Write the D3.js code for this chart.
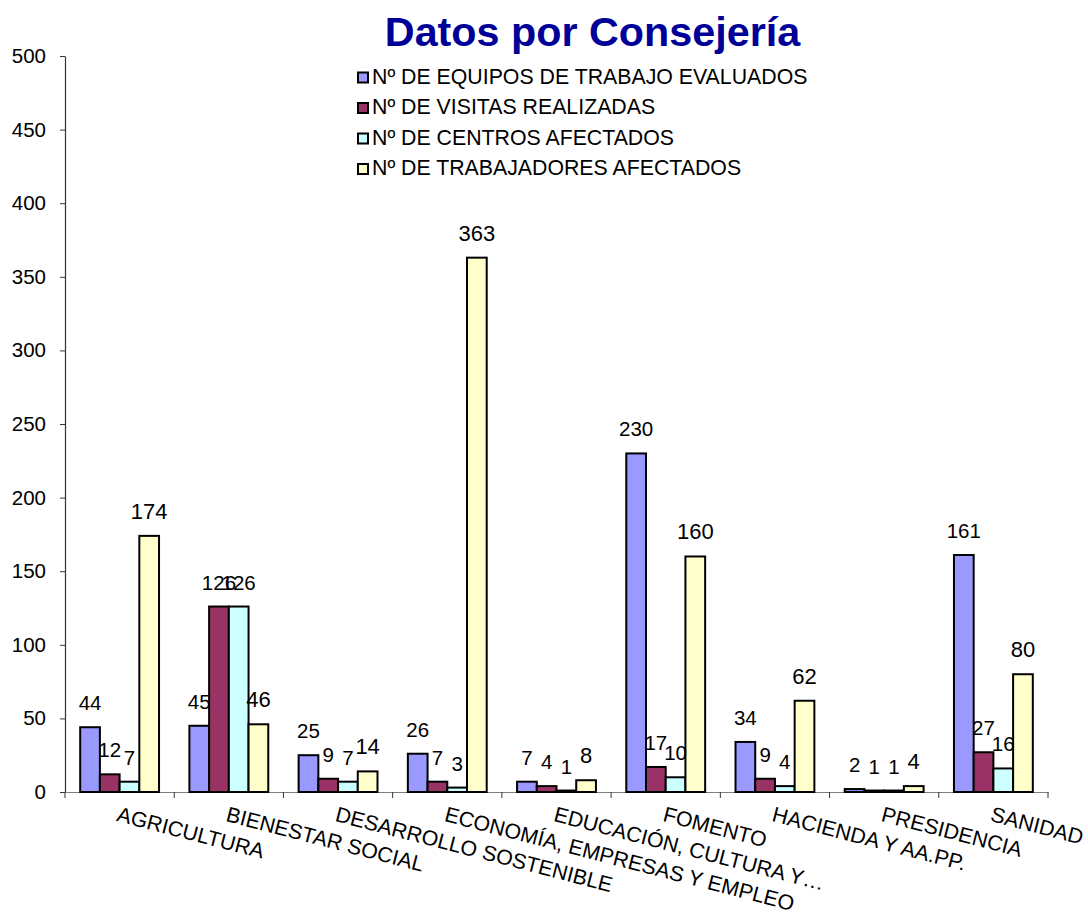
<!DOCTYPE html>
<html>
<head>
<meta charset="utf-8">
<script src="https://cdn.jsdelivr.net/npm/d3@7"></script>
<style>
  html, body { margin: 0; padding: 0; background: #fff; }
  svg { display: block; font-family: "Liberation Sans", Arial, sans-serif; }
</style>
</head>
<body>
<svg id="chart" width="1088" height="913"></svg>
<script>
const categories = ["AGRICULTURA", "BIENESTAR SOCIAL", "DESARROLLO SOSTENIBLE", "ECONOMÍA, EMPRESAS Y EMPLEO", "EDUCACIÓN, CULTURA Y…", "FOMENTO", "HACIENDA Y AA.PP.", "PRESIDENCIA", "SANIDAD"];
const seriesNames = ["Nº DE EQUIPOS DE TRABAJO EVALUADOS", "Nº DE VISITAS REALIZADAS", "Nº DE CENTROS AFECTADOS", "Nº DE TRABAJADORES AFECTADOS"];
const equipos = [44, 45, 25, 26, 7, 230, 34, 2, 161];
const visitas = [12, 126, 9, 7, 4, 17, 9, 1, 27];
const centros = [7, 126, 7, 3, 1, 10, 4, 1, 16];
const trabajadores = [174, 46, 14, 363, 8, 160, 62, 4, 80];
const yTicks = [0, 50, 100, 150, 200, 250, 300, 350, 400, 450, 500];
const colors = ["#9999FF", "#993366", "#CCFFFF", "#FFFFCC"];
const title = "Datos por Consejería";

const seriesValues = [equipos, visitas, centros, trabajadores];

const svg = d3.select("#chart");
const mLeft = 65, mRight = 1048, mTop = 56, mBottom = 792;

const x = d3.scaleBand().domain(categories).range([mLeft, mRight]).paddingInner(0).paddingOuter(0);
const x1 = d3.scaleBand().domain(d3.range(4)).range([0, x.bandwidth()]).paddingInner(0).paddingOuter(0.77);
const y = d3.scaleLinear().domain([0, 500]).range([mBottom, mTop]);

// Title
svg.append("text").attr("x", 592.5).attr("y", 46).attr("text-anchor", "middle")
  .attr("font-size", 41.3).attr("font-weight", "bold").attr("fill", "#000099").text(title);

// Y axis
const yAxis = d3.axisLeft(y).tickValues(yTicks).tickSize(5).tickPadding(14).tickSizeOuter(0);
const gy = svg.append("g").attr("transform", `translate(${mLeft},0)`).call(yAxis);
gy.select(".domain").attr("stroke", "#333").attr("stroke-width", 1.2);
gy.selectAll(".tick line").attr("stroke", "#333");
gy.selectAll(".tick text").attr("font-size", 20.5).attr("fill", "#000").attr("font-family", "Liberation Sans, Arial, sans-serif");

// X axis
const xAxis = d3.axisBottom(x).tickSize(0).tickFormat("").tickSizeOuter(0);
const gx = svg.append("g").attr("transform", `translate(0,${mBottom})`).call(xAxis);
gx.select(".domain").attr("stroke", "#808080").attr("stroke-width", 1.2);
const boundaries = categories.map(c => x(c)).concat([mRight]);
gx.selectAll(".bnd").data(boundaries).enter().append("line")
  .attr("x1", d => d).attr("x2", d => d).attr("y1", 0).attr("y2", 6).attr("stroke", "#333");

// Bars
const groups = svg.append("g").selectAll("g").data(categories).enter().append("g")
  .attr("transform", c => `translate(${x(c)},0)`);
groups.each(function(c, ci) {
  const g = d3.select(this);
  seriesValues.forEach((vals, si) => {
    g.append("rect")
      .attr("x", x1(si)).attr("width", x1.bandwidth())
      .attr("y", y(vals[ci])).attr("height", mBottom - y(vals[ci]))
      .attr("fill", colors[si]).attr("stroke", "#000").attr("stroke-width", 2);
  });
  seriesValues.forEach((vals, si) => {
    g.append("text")
      .attr("x", x1(si) + x1.bandwidth() / 2)
      .attr("y", y(vals[ci]) - 17)
      .attr("text-anchor", "middle")
      .attr("font-size", si === 3 ? 22 : 20.5)
      .attr("fill", "#000")
      .text(vals[ci]);
  });
});

// X labels
svg.append("g").selectAll("text").data(categories).enter().append("text")
  .attr("transform", c => `translate(${x(c) + x.bandwidth() / 2},${806}) rotate(14.5)`)
  .attr("dy", "0.72em")
  .attr("font-size", 21.3)
  .attr("fill", "#000")
  .text(c => c);

// Legend
const legend = svg.append("g");
seriesNames.forEach((name, i) => {
  const by = 83.5 + i * 30.5;
  legend.append("rect").attr("x", 358).attr("y", by - 11).attr("width", 10).attr("height", 10)
    .attr("fill", colors[i]).attr("stroke", "#000").attr("stroke-width", 2);
  legend.append("text").attr("x", 372).attr("y", by).attr("font-size", 21.3).attr("fill", "#000").text(name);
});
</script>
</body>
</html>
